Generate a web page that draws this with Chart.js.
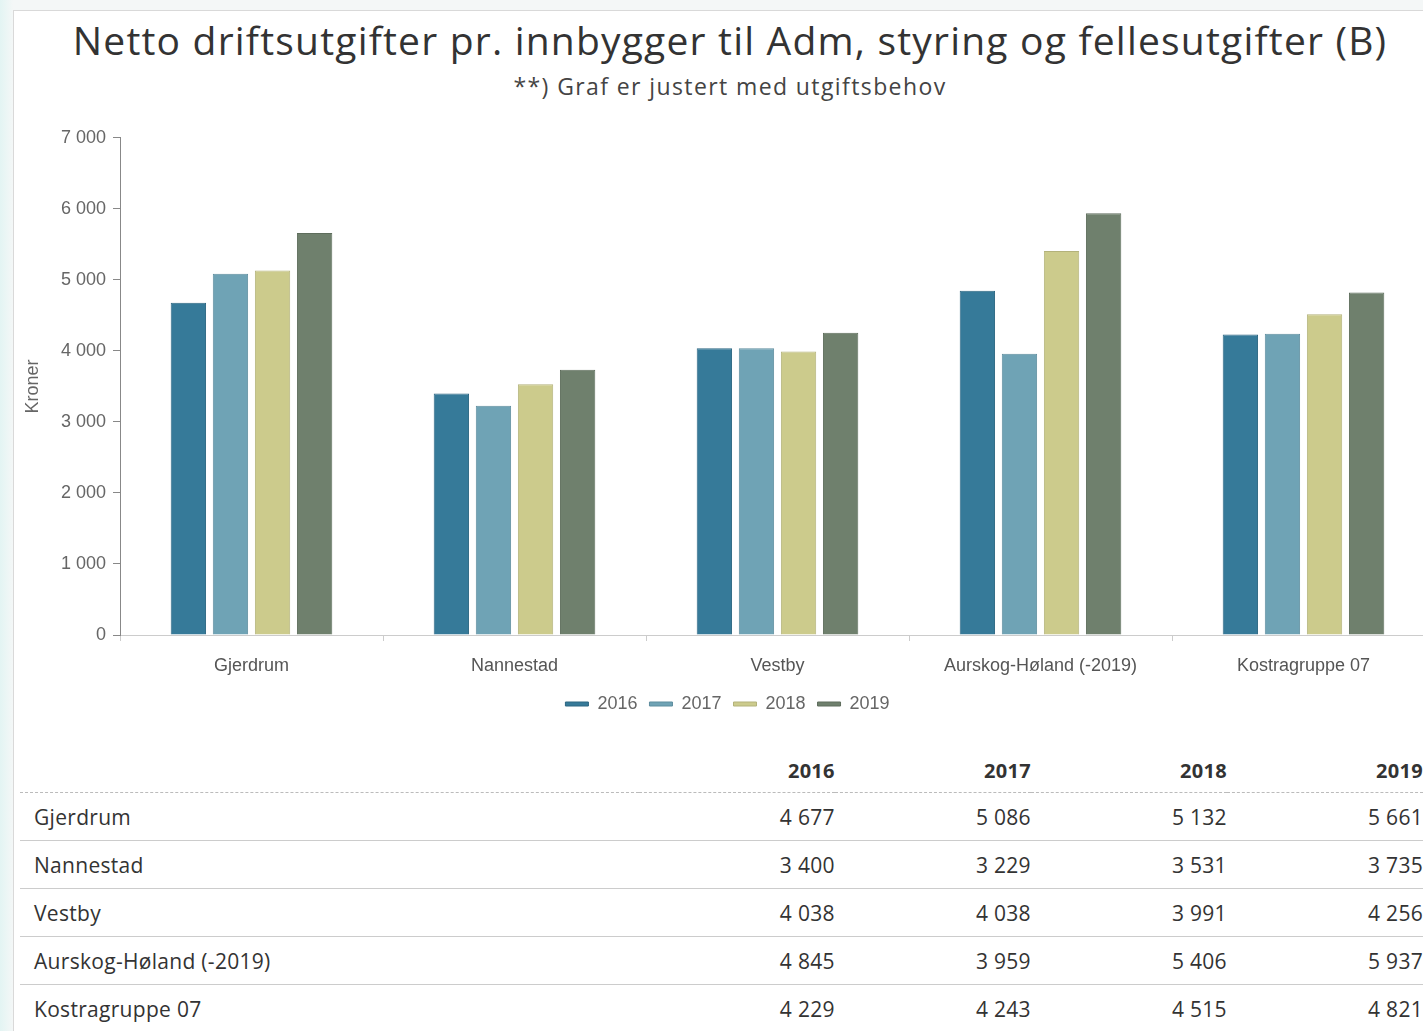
<!DOCTYPE html>
<html>
<head>
<meta charset="utf-8">
<script src="https://cdn.jsdelivr.net/npm/chart.js@4.4.0/dist/chart.umd.min.js"></script>
<style>
  html, body { margin: 0; padding: 0; }
  body {
    width: 1423px; height: 1031px; overflow: hidden; position: relative;
    background: linear-gradient(to right, #e3f4f3 0px, #f4f7f7 13px);
    font-family: "Open Sans", sans-serif;
  }
  #card {
    position: absolute; left: 13px; top: 10px; width: 1460px; height: 1040px;
    background: #fff; border: 1px solid #d9d9d9;
  }
  #title {
    position: absolute; left: 20px; width: 1420px; top: 14px; text-align: center;
    font-size: 39px; letter-spacing: 1.2px; color: #333; line-height: 52px; white-space: nowrap;
  }
  #subtitle {
    position: absolute; left: 20px; width: 1420px; top: 70px; text-align: center;
    font-size: 23px; letter-spacing: 1.4px; color: #444; line-height: 32px;
  }
  #wrap { position: absolute; left: 20px; top: 120px; width: 1420px; height: 603px; }
  #tbl {
    position: absolute; left: 20px; top: 749px; border-collapse: collapse; table-layout: fixed;
    font-size: 21px; letter-spacing: 0.3px; color: #333;
  }
  #tbl th { font-weight: bold; font-size: 20px; height: 43px; text-align: right; padding: 0; border-bottom: 1px dashed #bbb; }
  #tbl td { height: 47px; padding: 0; text-align: right; border-bottom: 1px solid #ccc; }
  #tbl td.name { text-align: left; padding-left: 14px; }
</style>
</head>
<body>
<div id="card"></div>
<div id="title">Netto driftsutgifter pr. innbygger til Adm, styring og fellesutgifter (B)</div>
<div id="subtitle">**) Graf er justert med utgiftsbehov</div>
<div id="wrap"><canvas id="chart"></canvas></div>
<table id="tbl"></table>
<script>
// data
let kommuner = ["Gjerdrum", "Nannestad", "Vestby", "Aurskog-Høland (-2019)", "Kostragruppe 07"];
let years = ["2016", "2017", "2018", "2019"];
let v2016 = [4677, 3400, 4038, 4845, 4229];
let v2017 = [5086, 3229, 4038, 3959, 4243];
let v2018 = [5132, 3531, 3991, 5406, 4515];
let v2019 = [5661, 3735, 4256, 5937, 4821];
let yTicks = [0, 1000, 2000, 3000, 4000, 5000, 6000, 7000];

let fills = ["#367a99", "#6fa3b5", "#cccb8c", "#6f806d"];
let borders = ["#2c6681", "#5d8d9e", "#b3b27a", "#5e6d5c"];
let allVals = [v2016, v2017, v2018, v2019];

function fmt(n) {
    return String(n).replace(/\B(?=(\d{3})+(?!\d))/g, "\u00a0");
}

let datasets = [];
for (let i = 0; i < years.length; i++) {
    datasets.push({
        label: years[i],
        data: allVals[i],
        backgroundColor: fills[i],
        borderColor: borders[i],
        borderWidth: 1,
        categoryPercentage: 0.64,
        barPercentage: 0.84
    });
}

let tickFont = { family: "'Liberation Sans', Arial", size: 18 };

let ctx = document.getElementById("chart");
let chart = new Chart(ctx, {
    type: "bar",
    data: { labels: kommuner, datasets: datasets },
    options: {
        responsive: true,
        maintainAspectRatio: false,
        animation: false,
        layout: { padding: { top: 17, right: 5, left: 0, bottom: 0 } },
        plugins: {
            tooltip: { enabled: false },
            legend: {
                position: "bottom",
                labels: {
                    boxWidth: 23,
                    boxHeight: 4,
                    padding: 12,
                    color: "#666",
                    font: tickFont
                }
            }
        },
        scales: {
            x: {
                afterFit: function (s) { s.height = 48; },
                grid: { display: true, drawOnChartArea: false, drawTicks: true, tickLength: 6, color: "#ccc", offset: true },
                border: { color: "#ccc" },
                ticks: { color: "#555", padding: 14, maxRotation: 0, font: tickFont }
            },
            y: {
                min: 0,
                max: 7000,
                afterFit: function (s) { s.width = 100; },
                afterBuildTicks: function (s) { s.ticks = yTicks.map(v => ({ value: v })); },
                grid: { display: true, drawOnChartArea: false, drawTicks: true, tickLength: 7, color: "#888" },
                border: { color: "#888" },
                title: { display: true, text: "Kroner", color: "#666", font: { family: "'Liberation Sans', Arial", size: 18 }, padding: 2 },
                ticks: {
                    color: "#666",
                    padding: 7,
                    font: tickFont,
                    callback: function (v) { return fmt(v); }
                }
            }
        }
    }
});

// table under the chart
let tbl = document.getElementById("tbl");
let html = "<colgroup><col style='width:622px'>";
for (let i = 0; i < years.length; i++) html += "<col style='width:197px'>";
html += "</colgroup><tr><th></th>";
for (let i = 0; i < years.length; i++) html += "<th>" + years[i] + "</th>";
html += "</tr>";
for (let r = 0; r < kommuner.length; r++) {
    html += "<tr><td class='name'>" + kommuner[r] + "</td>";
    for (let i = 0; i < years.length; i++) html += "<td>" + fmt(allVals[i][r]) + "</td>";
    html += "</tr>";
}
tbl.innerHTML = html;
</script>
</body>
</html>
